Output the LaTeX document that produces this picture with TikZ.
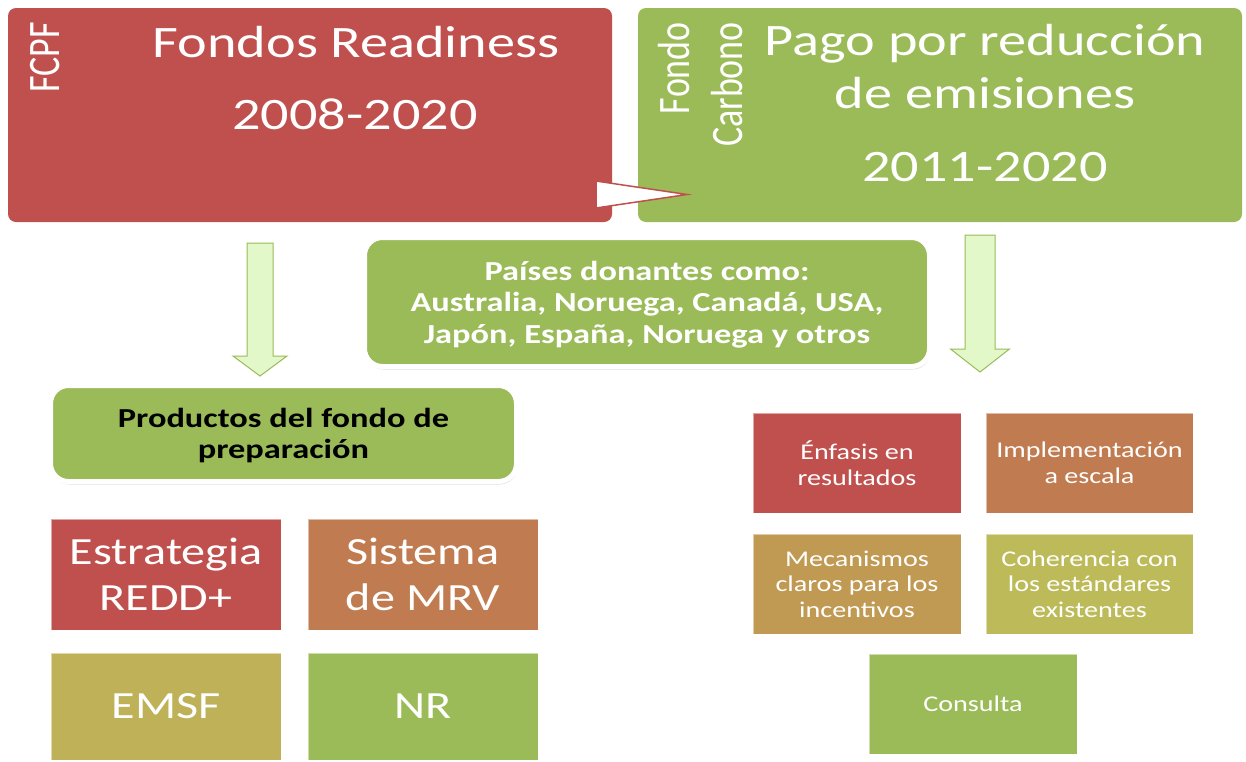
\documentclass[tikz,border=0pt]{standalone}
\usepackage{fontspec}
\setmainfont{Carlito}[FakeStretch=1.25]
\newfontfamily\rotfont{Carlito}[FakeStretch=0.8]
\usetikzlibrary{shadows}
\definecolor{fcpfred}{RGB}{192,80,77}
\definecolor{fondogreen}{RGB}{155,187,89}
\definecolor{mrvbrown}{RGB}{192,124,80}
\definecolor{mecgold}{RGB}{192,153,82}
\definecolor{emsfolive}{RGB}{191,177,88}
\definecolor{coholive}{RGB}{189,187,89}
\definecolor{arrowfill}{RGB}{226,248,200}
\newcommand{\titlesize}{\fontsize{45}{53}\selectfont}
\newcommand{\sidesize}{\rotfont\fontsize{45}{53}\selectfont}
\newcommand{\donorsize}{\bfseries\fontsize{27.5}{31.5}\selectfont}
\newcommand{\tilesize}{\fontsize{38.5}{46}\selectfont}
\newcommand{\smalltilesize}{\fontsize{22.5}{25.5}\selectfont}
\tikzset{
  topbox/.style={fill=#1,rounded corners=8pt,minimum width=604pt,minimum height=214pt,inner sep=0pt},
  roundbox/.style={fill=fondogreen,draw=white,line width=5pt,rounded corners=18pt,inner sep=0pt,text depth=0pt,
    drop shadow={opacity=0.25,shadow xshift=1pt,shadow yshift=-3pt},align=center},
  tilebox/.style={fill=#1,draw=white,draw opacity=0.5,line width=0.6pt,inner sep=0pt,align=center,text=white},
  arrowbody/.style={fill=arrowfill,draw=fondogreen,line width=1pt,line join=miter},
  labeltext/.style={inner sep=0pt,text=white}
}

\begin{document}
\begin{tikzpicture}[x=1pt,y=1pt,yscale=-1,xscale=1]
\useasboundingbox (0,0) rectangle (1246,761);
\fill [white] (0,0) rectangle (1246,761);

%Shape: Rounded Rect [readiness]
\node [topbox=fcpfred] (readiness) at (310,115) {};
%Shape: Rounded Rect [carbono]
\node [topbox=fondogreen] (carbono) at (940,115) {};
%Shape: Wedge from readiness to carbono
\draw [fill=white,draw=fcpfred,line width=1.5pt,line join=miter] (596,181) -- (687,194.5) -- (596,208) -- cycle ;

% Text Node
\draw (59,22) node [labeltext,rotate=90,anchor=base east,font=\sidesize] (fcpflabel) {FCPF};
% Text Node
\draw (356,57) node [labeltext,anchor=base,font=\titlesize] (readinesstitle) {Fondos Readiness};
% Text Node
\draw (355,129) node [labeltext,anchor=base,font=\titlesize] (readinessyears) {2008-2020};
% Text Node
\draw (689,22) node [labeltext,rotate=90,anchor=base east,font=\sidesize] (fondolabel) {Fondo};
% Text Node
\draw (742,22) node [labeltext,rotate=90,anchor=base east,font=\sidesize] (carbonolabel) {Carbono};
% Text Node
\draw (985,55) node [labeltext,anchor=base,font=\titlesize] (pagotitle) {Pago por reducción};
% Text Node
\draw (985,108) node [labeltext,anchor=base,font=\titlesize] (emisionestitle) {de emisiones};
% Text Node
\draw (985,181) node [labeltext,anchor=base,font=\titlesize] (carbonoyears) {2011-2020};

%Shape: Down Arrow [left]
\coordinate (leftarrow) at (260,243);
\draw [arrowbody] (leftarrow) ++(-13,0) -- ++(0,113) -- ++(-14,0) -- ++(27,20) -- ++(27,-20) -- ++(-14,0) -- ++(0,-113) -- cycle ;
%Shape: Down Arrow [right]
\coordinate (rightarrow) at (980,235);
\draw [arrowbody] (rightarrow) ++(-15,0) -- ++(0,114) -- ++(-14.5,0) -- ++(29.5,23) -- ++(29.5,-23) -- ++(-14.5,0) -- ++(0,-114) -- cycle ;

%Shape: Rounded Rect [donantes]
\node [roundbox,minimum width=565pt,minimum height=129pt,text=white,font=\donorsize] (donantes) at (647,302)
  {Países donantes como:\\Australia, Noruega, Canadá, USA,\\Japón, España, Noruega y otros};
%Shape: Rounded Rect [productos]
\node [roundbox,minimum width=466pt,minimum height=96pt,text=black,font=\donorsize] (productos) at (283.5,433.5)
  {Productos del fondo de\\preparación};

%Shape: Tiles left
\node [tilebox=fcpfred,minimum width=230pt,minimum height=111pt,font=\tilesize] (estrategia) at (166,574.5) {Estrategia\\REDD+};
\node [tilebox=mrvbrown,minimum width=230pt,minimum height=111pt,font=\tilesize] (mrv) at (423,574.5) {Sistema\\de MRV};
\node [tilebox=emsfolive,minimum width=230pt,minimum height=107pt,font=\tilesize] (emsf) at (166,706.5) {EMSF};
\node [tilebox=fondogreen,minimum width=230pt,minimum height=107pt,font=\tilesize] (nr) at (423,706.5) {NR};

%Shape: Tiles right
\node [tilebox=fcpfred,minimum width=208pt,minimum height=100pt,font=\smalltilesize] (enfasis) at (857,463) {Énfasis en\\resultados};
\node [tilebox=mrvbrown,minimum width=207pt,minimum height=100pt,font=\smalltilesize] (escala) at (1089.5,463) {Implementación\\a escala};
\node [tilebox=mecgold,minimum width=208pt,minimum height=100pt,font=\smalltilesize] (mecanismos) at (857,584) {Mecanismos\\claros para los\\incentivos};
\node [tilebox=coholive,minimum width=207pt,minimum height=100pt,font=\smalltilesize] (coherencia) at (1089.5,584) {Coherencia con\\los estándares\\existentes};
\node [tilebox=fondogreen,minimum width=208pt,minimum height=100pt,font=\smalltilesize] (consulta) at (973,704) {Consulta};

\end{tikzpicture}
\end{document}
